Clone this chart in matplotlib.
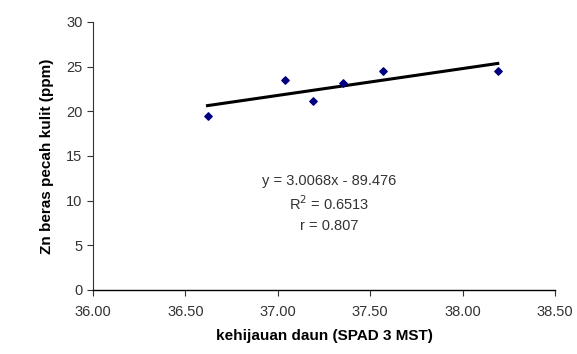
import numpy as np
import matplotlib
matplotlib.use("Agg")
import matplotlib.pyplot as plt

# data
spad = [36.62, 37.04, 37.19, 37.355, 37.57, 38.19]
zn = [19.5, 23.45, 21.15, 23.2, 24.5, 24.5]
slope, intercept = 3.0068, -89.476
eq_lines = ["y = 3.0068x - 89.476", "R$^2$ = 0.6513", "r = 0.807"]
xticks = [36.0, 36.5, 37.0, 37.5, 38.0, 38.5]
yticks = [0, 5, 10, 15, 20, 25, 30]

plt.rcParams['font.family'] = ['Liberation Sans', 'DejaVu Sans']

fig = plt.figure(figsize=(5.77, 3.54), dpi=100)
ax = fig.add_axes([0.161, 0.181, 0.801, 0.757])

ax.scatter(spad, zn, marker='D', s=14, color='#000080', zorder=3)
xt = np.array([min(spad), max(spad)])
ax.plot(xt, slope * xt + intercept, color='black', lw=2.2, zorder=2)

ax.set_xlim(36.0, 38.5)
ax.set_ylim(0, 30)
ax.set_xticks(xticks)
ax.set_xticklabels(["%.2f" % v for v in xticks])
ax.set_yticks(yticks)

for s in ['top', 'right']:
    ax.spines[s].set_visible(False)
ax.spines['left'].set_color('#333333')
ax.spines['left'].set_linewidth(0.8)
ax.spines['bottom'].set_color('black')
ax.spines['bottom'].set_linewidth(1.0)
ax.tick_params(axis='both', direction='out', length=4, width=0.8,
               labelsize=10.5, labelcolor='#333333', color='#333333')
ax.tick_params(axis='x', pad=7)

ax.set_xlabel("kehijauan daun (SPAD 3 MST)", fontsize=11, fontweight='bold', labelpad=7)
ax.set_ylabel("Zn beras pecah kulit (ppm)", fontsize=11, fontweight='bold', labelpad=9)

ys = [12.25, 9.65, 7.15]
for t, yv in zip(eq_lines, ys):
    ax.text(37.28, yv, t, ha='center', va='center', fontsize=10.5, color='#333333')

fig.savefig("out.png", dpi=100)
